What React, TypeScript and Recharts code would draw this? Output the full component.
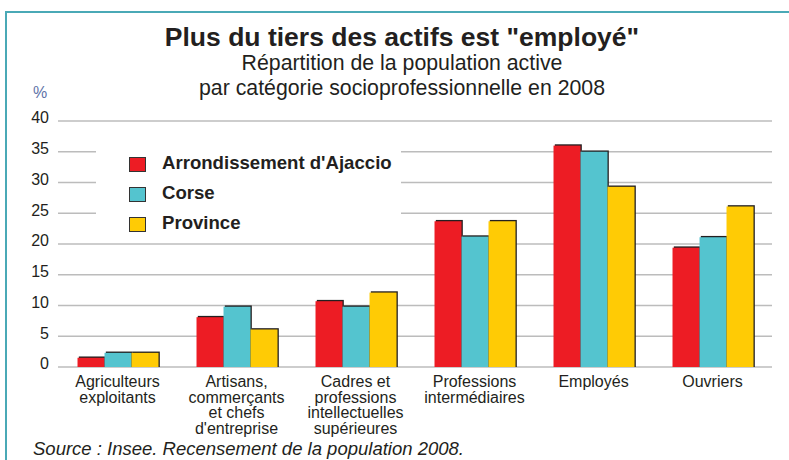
import React from 'react';
import { BarChart, Bar, XAxis, YAxis, CartesianGrid } from 'recharts';

const categories = [
  'Agriculteurs\nexploitants',
  "Artisans,\ncommerçants\net chefs\nd'entreprise",
  'Cadres et\nprofessions\nintellectuelles\nsupérieures',
  'Professions\nintermédiaires',
  'Employés',
  'Ouvriers',
];
const ajaccio = [1.5, 8.1, 10.7, 23.7, 36.0, 19.4];
const corse = [2.3, 9.8, 9.8, 21.2, 35.0, 21.1];
const province = [2.3, 6.1, 12.1, 23.7, 29.3, 26.1];
const yTicks = [0, 5, 10, 15, 20, 25, 30, 35, 40];
const seriesNames = ["Arrondissement d'Ajaccio", 'Corse', 'Province'];
const seriesKeys = ['ajaccio', 'corse', 'province'];
const seriesColors = ['#ed1c24', '#54c4cf', '#ffcb05'];

const data = categories.map((c, i) => ({
  cat: c,
  ajaccio: ajaccio[i],
  corse: corse[i],
  province: province[i],
}));

const FONT = '"Liberation Sans", Arial, Helvetica, sans-serif';
const INK = '#231f20';

const ShadowBar = (props: any) => {
  const { x, y, width, height, fill } = props;
  if (!height || height <= 0) return null;
  const d = 1.3;
  return (
    <g>
      <rect x={x + d} y={y - d} width={width} height={height + d} fill={INK} />
      <rect x={x} y={y} width={width} height={height} fill={fill} />
    </g>
  );
};

const YTick = (props: any) => {
  const { x, y, payload } = props;
  return (
    <text x={x} y={y + 2.4} textAnchor="end" fontSize={16} fill={INK} fontFamily={FONT}>
      {payload.value}
    </text>
  );
};

const XTick = (props: any) => {
  const { x, y, payload } = props;
  const lines = String(payload.value).split('\n');
  return (
    <text x={x} y={y} textAnchor="middle" fontSize={16} fill={INK} fontFamily={FONT}>
      {lines.map((l, i) => (
        <tspan key={i} x={x} dy={i === 0 ? 11.8 : 15.7}>
          {l}
        </tspan>
      ))}
    </text>
  );
};

export default function App() {
  return (
    <div
      style={{
        position: 'absolute',
        left: 0,
        top: 0,
        width: 789,
        height: 460,
        background: '#fff',
        overflow: 'hidden',
        fontFamily: FONT,
        color: INK,
      }}
    >
      <div
        style={{
          position: 'absolute',
          left: 5,
          top: 11,
          width: 800,
          height: 500,
          borderTop: '2px solid #4aa9b6',
          borderLeft: '2px solid #4aa9b6',
        }}
      />
      <BarChart
        width={789}
        height={460}
        data={data}
        margin={{ top: 121, right: 17, bottom: 63, left: 8 }}
        barCategoryGap="16.4%"
        barGap={0}
      >
        <CartesianGrid vertical={false} stroke="#bcbcbc" strokeWidth={1.3} />
        <XAxis
          dataKey="cat"
          axisLine={false}
          tickLine={false}
          height={30}
          interval={0}
          tick={<XTick />}
        />
        <YAxis
          width={50}
          domain={[0, 40]}
          ticks={yTicks}
          axisLine={false}
          tickLine={false}
          tickMargin={3}
          tick={<YTick />}
        />
        {seriesKeys.map((k, i) => (
          <Bar
            key={k}
            dataKey={k}
            name={seriesNames[i]}
            fill={seriesColors[i]}
            isAnimationActive={false}
            shape={<ShadowBar />}
          />
        ))}
      </BarChart>
      <div
        style={{
          position: 'absolute',
          left: 96,
          top: 136,
          width: 305,
          height: 100,
          background: '#fff',
        }}
      >
        {seriesNames.map((n, i) => (
          <div key={n}>
            <div
              style={{
                position: 'absolute',
                left: 129 - 96,
                top: 157 - 136 + i * 30.2,
                width: 14.5,
                height: 12.5,
                background: seriesColors[i],
                border: '1.3px solid #333',
              }}
            />
            <div
              style={{
                position: 'absolute',
                left: 162 - 96,
                top: 150 - 136 + i * 30.2,
                fontSize: 18.6,
                fontWeight: 'bold',
                lineHeight: '26px',
                whiteSpace: 'nowrap',
                color: INK,
              }}
            >
              {n}
            </div>
          </div>
        ))}
      </div>
      <div
        style={{
          position: 'absolute',
          left: 0,
          width: 804,
          top: 22,
          textAlign: 'center',
          fontSize: 26.5,
          fontWeight: 'bold',
          lineHeight: '30px',
          whiteSpace: 'nowrap',
        }}
      >
        Plus du tiers des actifs est "employé"
      </div>
      <div
        style={{
          position: 'absolute',
          left: 0,
          width: 804,
          top: 51,
          textAlign: 'center',
          fontSize: 21.3,
          lineHeight: '25px',
          whiteSpace: 'nowrap',
        }}
      >
        Répartition de la population active
        <br />
        par catégorie socioprofessionnelle en 2008
      </div>
      <div
        style={{
          position: 'absolute',
          left: 33,
          top: 83,
          fontSize: 16,
          lineHeight: '20px',
          color: '#5f73a8',
        }}
      >
        %
      </div>
      <div
        style={{
          position: 'absolute',
          left: 33,
          top: 438,
          fontSize: 18.5,
          fontStyle: 'italic',
          lineHeight: '21px',
          whiteSpace: 'nowrap',
        }}
      >
        Source : Insee. Recensement de la population 2008.
      </div>
    </div>
  );
}
